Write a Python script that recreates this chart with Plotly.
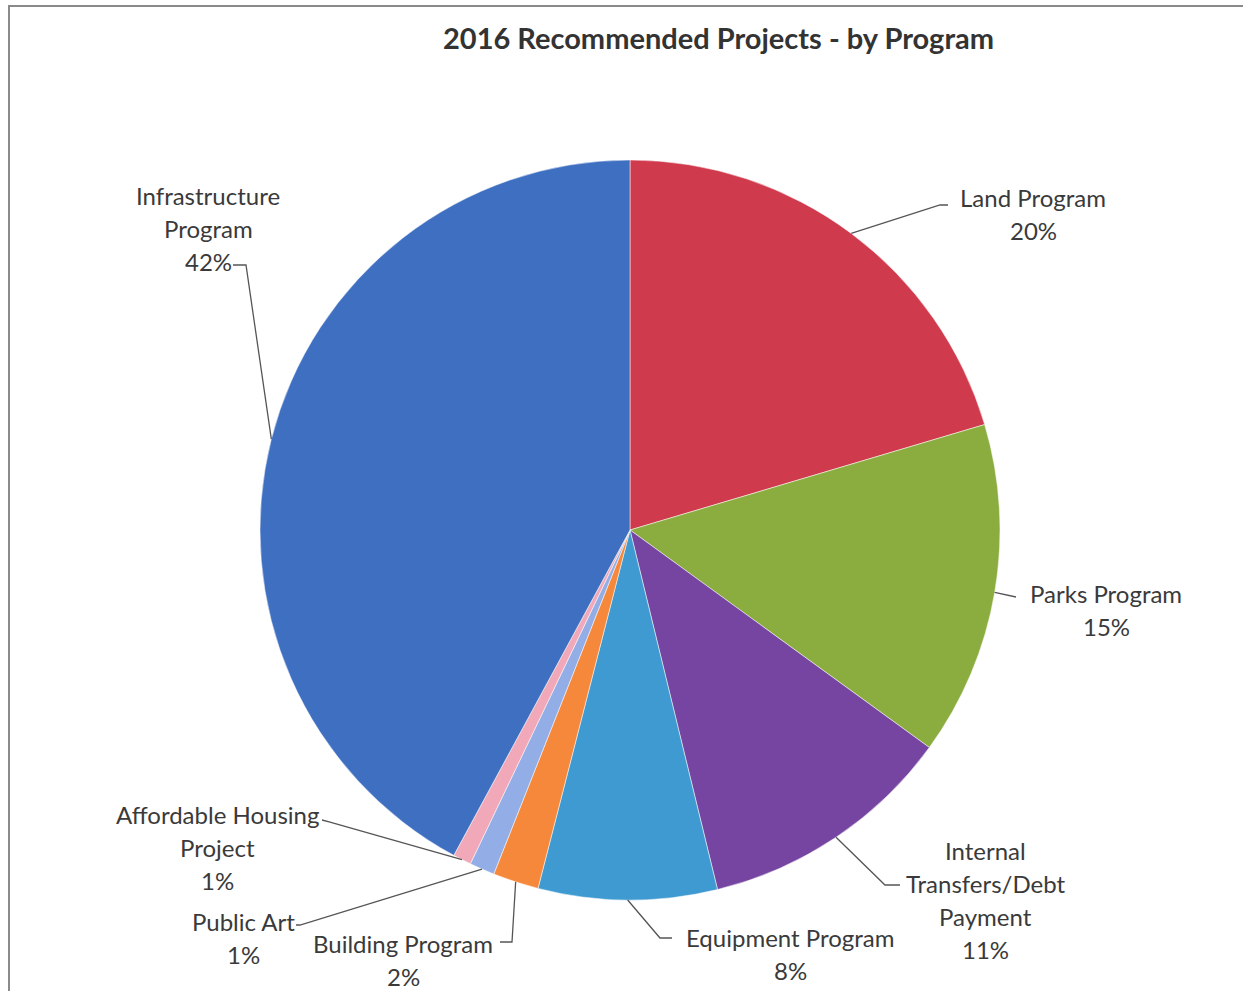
import plotly.graph_objects as go
import math

W, H = 1243, 991

programs = ["Land Program", "Parks Program", "Internal Transfers/Debt Payment",
            "Equipment Program", "Building Program", "Public Art",
            "Affordable Housing Project", "Infrastructure Program"]
values = [20.4, 14.6, 11.2, 7.8, 2.0, 1.1, 0.8, 42.1]
colors = ["#CF3A4C", "#8BAD3F", "#7645A1", "#3E9AD0", "#F5883A",
          "#93AEE6", "#F1A9B9", "#3F6FC1"]
label_lines = [["Land Program"], ["Parks Program"],
               ["Internal", "Transfers/Debt", "Payment"], ["Equipment Program"],
               ["Building Program"], ["Public Art"],
               ["Affordable Housing", "Project"], ["Infrastructure", "Program"]]

# layout (pixel) settings for label blocks and leader lines
CX, CY, R = 630, 530, 370
label_pos = [(1033, 197), (1106, 593), (985, 850), (790, 937),
             (403, 943), (243, 921), (217, 814), (208, 195)]
leader_elbows = [
    [(940, 205), (948, 205)],
    [(1016, 597)],
    [(885, 885), (900, 885)],
    [(660, 938), (672, 938)],
    [(512, 942), (500, 942)],
    [(300, 925), (296, 925)],
    [(330, 822), (322, 820)],
    [(246, 265), (233, 265)],
]
LINE_H = 33
FONT = "Lato"
TXT = "#3a3a3a"


def px(x, y):
    return x / W, 1 - y / H


fig = go.Figure()
fig.add_trace(go.Pie(
    labels=programs, values=values, sort=False, direction="clockwise",
    rotation=0, marker=dict(colors=colors, line=dict(color="white", width=0.5)),
    textinfo="none", hoverinfo="label+percent", showlegend=False,
    domain=dict(x=[(CX - R) / W, (CX + R) / W], y=[(H - CY - R) / H, (H - CY + R) / H]),
))

total = sum(values)
annotations = []
shapes = []
cum = 0
for i, v in enumerate(values):
    mid = (cum + v / 2) / total * 2 * math.pi
    cum += v
    ax, ay = CX + R * math.sin(mid), CY - R * math.cos(mid)
    pts = [(ax, ay)] + leader_elbows[i]
    path = "M " + " L ".join(f"{px(x, y)[0]:.5f},{px(x, y)[1]:.5f}" for x, y in pts)
    shapes.append(dict(type="path", xref="paper", yref="paper", path=path,
                       line=dict(color="#555555", width=1.3)))
    lines = label_lines[i] + [f"{round(v / total * 100)}%"]
    lx, ly = label_pos[i]
    for k, t in enumerate(lines):
        x, y = px(lx, ly + k * LINE_H)
        annotations.append(dict(x=x, y=y, xref="paper", yref="paper", text=t,
                                showarrow=False, xanchor="center", yanchor="middle",
                                font=dict(family=FONT, size=24, color=TXT)))

annotations.append(dict(x=px(718, 38)[0], y=px(718, 38)[1], xref="paper", yref="paper",
                        text="<b>2016 Recommended Projects - by Program</b>",
                        showarrow=False, xanchor="center", yanchor="middle",
                        font=dict(family=FONT, size=29, color="#333333")))

# frame: only top and left edges are visible in the reference
shapes.append(dict(type="path", xref="paper", yref="paper",
                   path=f"M {px(9, 991)[0]},{px(9, 991)[1]} L {px(9, 6)[0]},{px(9, 6)[1]} L {px(1243, 6)[0]},{px(1243, 6)[1]}",
                   line=dict(color="#8a8a8a", width=2)))

fig.update_layout(width=W, height=H, margin=dict(l=0, r=0, t=0, b=0),
                  paper_bgcolor="white", plot_bgcolor="white",
                  annotations=annotations, shapes=shapes)
fig.write_html("out.html")
